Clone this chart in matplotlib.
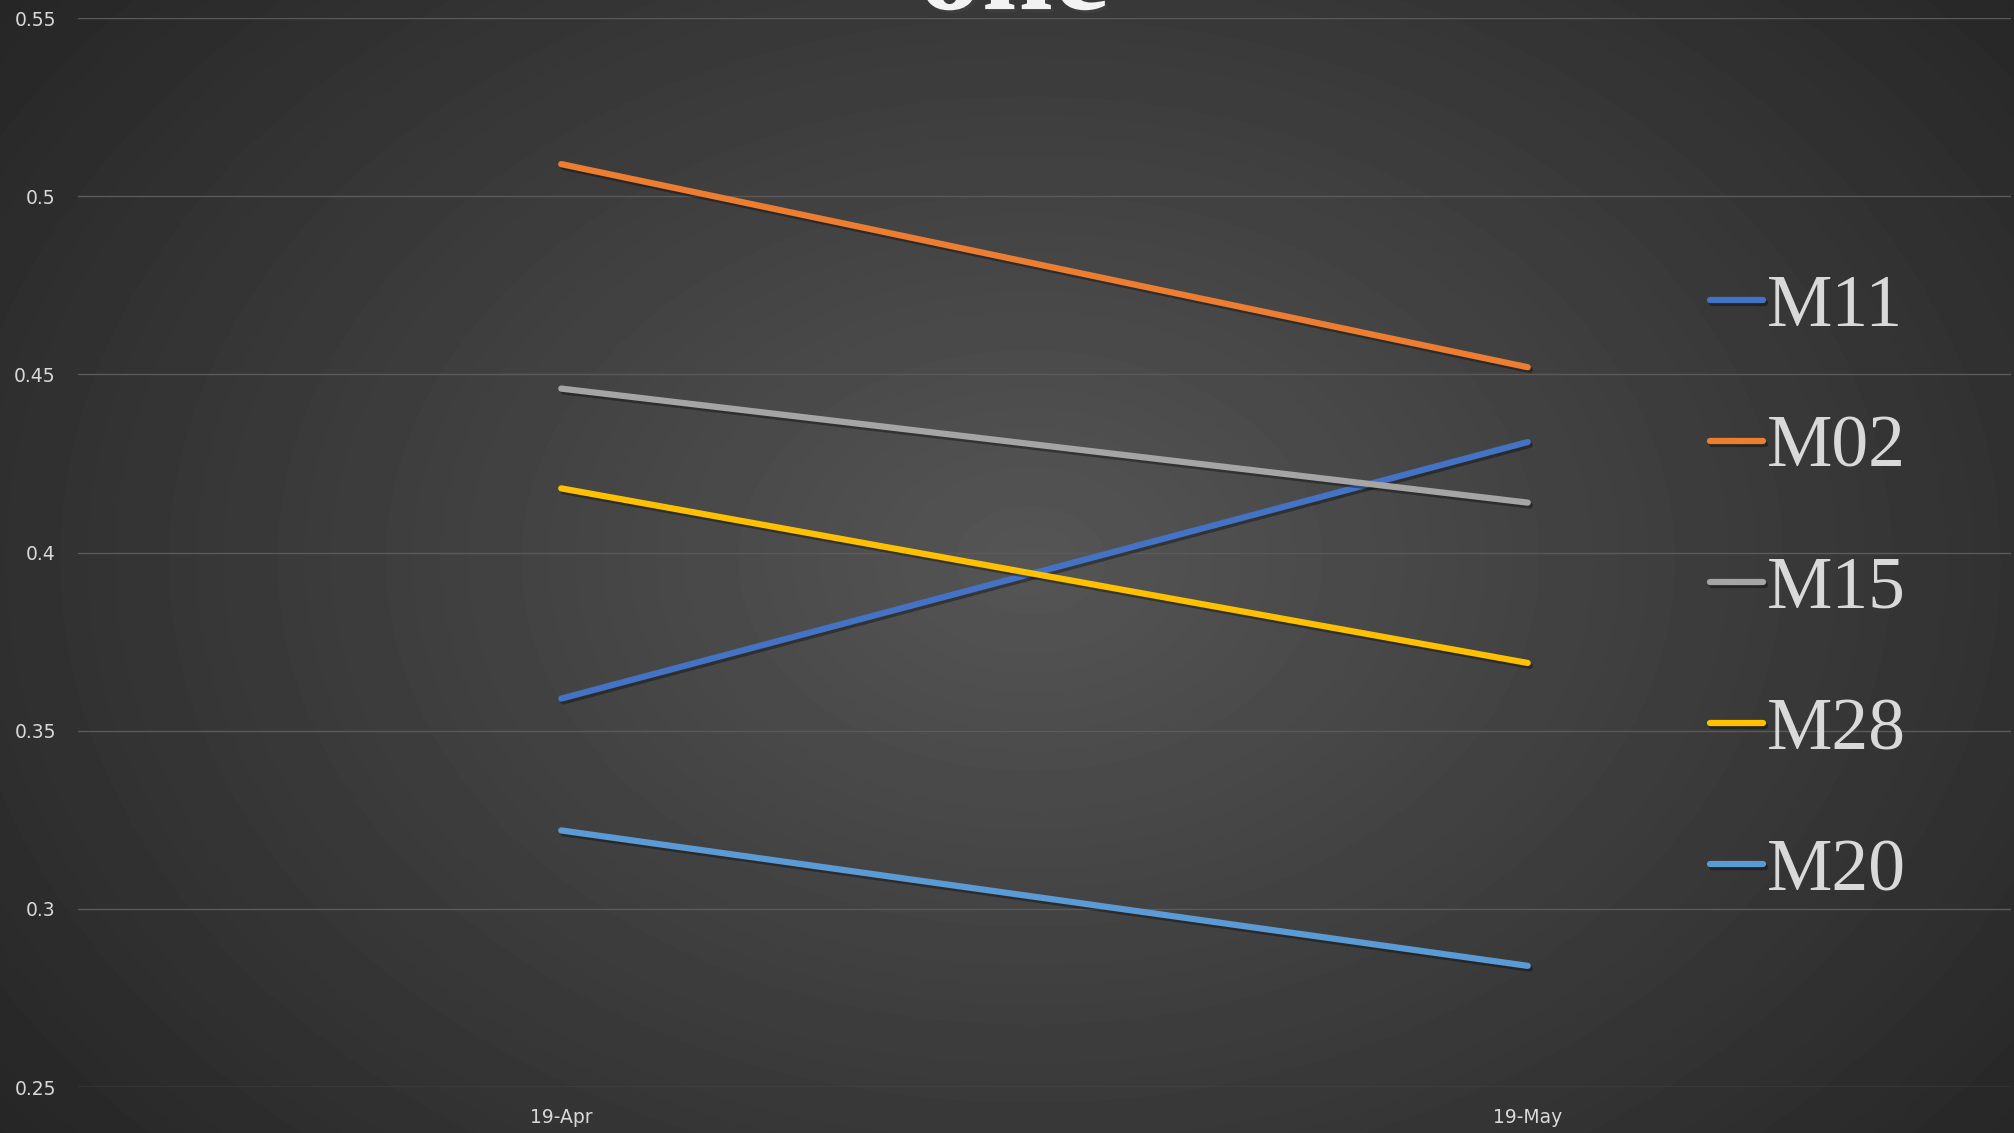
import numpy as np
import matplotlib.pyplot as plt
import matplotlib.patheffects as pe

# data
months = ["19-Apr", "19-May"]
series_names = ["M11", "M02", "M15", "M28", "M20"]
m11 = [0.359, 0.431]
m02 = [0.509, 0.452]
m15 = [0.446, 0.414]
m28 = [0.418, 0.369]
m20 = [0.322, 0.284]
series_values = [m11, m02, m15, m28, m20]
colors = ["#4472C4", "#ED7D31", "#A5A5A5", "#FFC000", "#5B9BD5"]
y_ticks = [0.25, 0.3, 0.35, 0.4, 0.45, 0.5, 0.55]
y_tick_labels = ["0.25", "0.3", "0.35", "0.4", "0.45", "0.5", "0.55"]

fig = plt.figure(figsize=(20.15, 11.33), dpi=100)

# radial gradient background
bg = fig.add_axes([0, 0, 1, 1], zorder=0)
yy, xx = np.mgrid[0:1133, 0:2015]
r = np.sqrt(((xx - 1030) / 1250.0) ** 2 + ((yy - 560) / 900.0) ** 2)
shade = np.clip(0.335 - 0.18 * r, 0.145, 0.335)
bg.imshow(shade, cmap="gray", vmin=0, vmax=1, aspect="auto",
          extent=[0, 1, 0, 1], interpolation="bilinear")
bg.set_axis_off()

ax = fig.add_axes([0.0387, 0.0406, 0.9593, 0.9435], zorder=1)
ax.patch.set_alpha(0)

x = np.arange(len(months))
for name, vals, c in zip(series_names, series_values, colors):
    ax.plot(x, vals, color=c, lw=4.5, solid_capstyle="round", label=name,
            path_effects=[pe.SimpleLineShadow(offset=(1.5, -2), alpha=0.35),
                          pe.Normal()])

ax.set_xlim(-0.5, 1.5)
ax.set_ylim(0.25, 0.55)
ax.set_yticks(y_ticks)
ax.set_yticklabels(y_tick_labels)
ax.set_xticks(x)
ax.set_xticklabels(months)
ax.tick_params(length=0, colors="#d9d9d9", labelsize=13.5)
ax.tick_params(axis="y", pad=16)
ax.tick_params(axis="x", pad=15)
ax.grid(axis="y", color="#5a5a5a", lw=1)
ax.set_axisbelow(True)
for s in ax.spines.values():
    s.set_visible(False)

leg = ax.legend(loc="upper left", bbox_to_anchor=(0.829, 0.788), frameon=False,
                prop={"family": "Liberation Serif", "size": 53},
                labelcolor="#d9d9d9", handlelength=0.72, handletextpad=0.05,
                labelspacing=1.0, borderaxespad=0)
for h in leg.get_lines():
    h.set_linewidth(4.5)

# title, mostly cut off above the figure edge
fig.text(0.503, 0.992, "one", ha="center", va="baseline", color="#f2f2f2",
         family="Liberation Serif", weight="bold", size=92,
         path_effects=[pe.withSimplePatchShadow(offset=(2, -2), alpha=0.4)])

fig.savefig("out.png", dpi=100)
